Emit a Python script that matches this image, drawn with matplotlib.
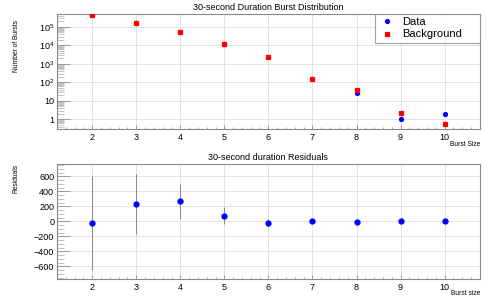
import matplotlib.pyplot as plt
from matplotlib.ticker import FixedLocator, MultipleLocator, NullFormatter
import numpy as np

plt.rcParams['font.family'] = ['Liberation Sans', 'DejaVu Sans']
plt.rcParams['mathtext.fontset'] = 'custom'
plt.rcParams['mathtext.rm'] = 'Liberation Sans'

burst_size = [2, 3, 4, 5, 6, 7, 8, 9, 10]
background = [4.4e5, 1.7e5, 5.2e4, 1.24e4, 2.3e3, 156, 38, 2.1, 0.56]
residuals = [-20, 231, 270, 75, -20, 1, -12, -1, 1.5]
res_err = [625, 400, 233, 115, 48, 12, 6, 1.5, 1]
data = [b + r for b, r in zip(background, residuals)]

fig = plt.figure(figsize=(4.98, 2.96), dpi=100)
ax1 = fig.add_axes([0.1145, 0.564, 0.849, 0.389])
ax2 = fig.add_axes([0.1145, 0.0574, 0.849, 0.3875])

frame = '#8a8a8a'
gridc = '#dedede'

def style(ax):
    for s in ax.spines.values():
        s.set_color(frame)
        s.set_linewidth(0.8)
    ax.set_xlim(1.2, 10.8)
    ax.xaxis.set_major_locator(FixedLocator(burst_size))
    ax.xaxis.set_minor_locator(MultipleLocator(0.2))
    ax.tick_params(axis='x', which='major', direction='in', length=3, width=0.6,
                   color=frame, labelsize=6.5, pad=3)
    ax.tick_params(axis='x', which='minor', direction='in', length=1.5, width=0.5, color=frame)
    ax.tick_params(axis='y', which='major', direction='in', length=9, width=0.7,
                   color='#999999', labelsize=6.5, pad=2)
    ax.tick_params(axis='y', which='minor', direction='in', length=5, width=0.5, color='#aaaaaa')
    ax.tick_params(top=False, right=False)
    ax.grid(True, which='major', color=gridc, linewidth=0.6)
    ax.set_axisbelow(True)

# top panel
style(ax1)
ax1.set_yscale('log')
ax1.set_ylim(0.3, 5e5)
ax1.yaxis.set_major_locator(FixedLocator([1, 10, 1e2, 1e3, 1e4, 1e5]))
ax1.set_yticklabels(['1', '10', r'$\mathregular{10^{2}}$', r'$\mathregular{10^{3}}$',
                     r'$\mathregular{10^{4}}$', r'$\mathregular{10^{5}}$'])
minors = [m * 10.0 ** e for e in range(-1, 6) for m in range(2, 10)]
ax1.yaxis.set_minor_locator(FixedLocator(minors))
ax1.yaxis.set_minor_formatter(NullFormatter())
ax1.plot(burst_size, data, 'o', color='#0000ff', markersize=3.8, markeredgewidth=0,
         label='Data', zorder=3)
ax1.plot(burst_size, background, 's', color='#ff0000', markersize=3.4, markeredgewidth=0.9,
         label='Background', zorder=4)
ax1.set_title('30-second Duration Burst Distribution', fontsize=6.5, pad=3)
ax1.set_ylabel('Number of Bursts', fontsize=4.8, labelpad=8)
ax1.yaxis.set_label_coords(-0.088, 0.72)
ax1.text(1.0, -0.1, 'Burst Size', transform=ax1.transAxes, ha='right', va='top', fontsize=4.8)
leg = ax1.legend(loc='upper left', bbox_to_anchor=(0.752, 0, 0.248, 1.0), mode='expand',
                 fontsize=8, frameon=True, fancybox=False,
                 borderaxespad=0, handletextpad=0.5, borderpad=0.3, labelspacing=0.2,
                 handlelength=1.6)
leg.get_frame().set_edgecolor(frame)
leg.get_frame().set_linewidth(0.8)

# bottom panel
style(ax2)
ax2.set_ylim(-770, 760)
ax2.yaxis.set_major_locator(MultipleLocator(200))
ax2.yaxis.set_minor_locator(MultipleLocator(50))
ax2.set_yticks([-600, -400, -200, 0, 200, 400, 600])
ax2.errorbar(burst_size, residuals, yerr=res_err, fmt='o', color='#0000ff',
             ecolor='#888888', elinewidth=0.7, markersize=3.5, capsize=0, zorder=3)
ax2.set_title('30-second duration Residuals', fontsize=6.5, pad=3)
ax2.set_ylabel('Residuals', fontsize=4.8)
ax2.yaxis.set_label_coords(-0.088, 0.88)
ax2.text(1.0, -0.1, 'Burst size', transform=ax2.transAxes, ha='right', va='top', fontsize=4.8)

fig.savefig('out.png', dpi=100)
